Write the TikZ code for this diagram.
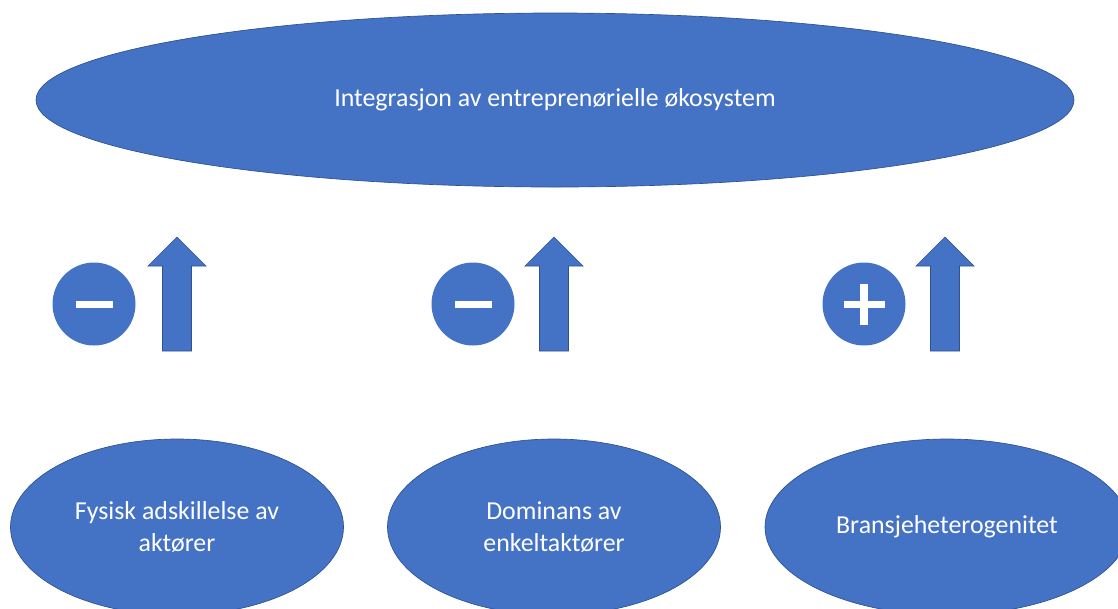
\documentclass[tikz,border=0pt]{standalone}
\usepackage{fontspec}
\setmainfont{Carlito}
\usetikzlibrary{shapes.geometric}
\definecolor{officeblue}{HTML}{4472C4}
\definecolor{officeline}{HTML}{2F528F}
\tikzset{
  blob/.style={ellipse, fill=officeblue, draw=officeline, line width=0.5pt,
    text=white, align=center, inner sep=0pt,
    font=\fontsize{19.4}{24}\selectfont},
  sign/.style={circle, fill=officeblue, minimum size=62.25pt, inner sep=0pt},
  uparrow/.style={fill=officeblue, draw=officeline, line width=0.5pt},
}

\begin{document}
\begin{tikzpicture}[x=0.75pt,y=-0.75pt]
    \clip (0,0) rectangle (1118,608);
    % top ellipse
    \node[blob, minimum width=778.5pt, minimum height=130.5pt] (eco) at (555,100)
      {Integrasjon av entreprenørielle økosystem};
    % bottom ellipses
    \node[blob, minimum width=249.75pt, minimum height=132pt] (fysisk) at (177,527)
      {Fysisk adskillelse av\\aktører};
    \node[blob, minimum width=249.75pt, minimum height=132pt] (dominans) at (554,527)
      {Dominans av\\enkeltaktører};
    \node[blob, minimum width=273pt, minimum height=132pt] (bransje) at (947,527)
      {Bransjeheterogenitet};
    % signs
    \node[sign] (minusA) at (94,304) {};
    \node[sign] (minusB) at (473,304) {};
    \node[sign] (plusC) at (864,304) {};
    \foreach \s in {minusA,minusB} {
        \fill[white] ([shift={(-18.5,-3.5)}]\s.center) rectangle ++(37,7);
      }
    \fill[white] ([shift={(-20.5,-3.5)}]plusC.center) rectangle ++(41,7);
    \fill[white] ([shift={(-4,-20.5)}]plusC.center) rectangle ++(8,41);
    % block arrows
    \foreach \c in {177,554,945} {
        \draw[uparrow] (\c-14.5,351) -- (\c-14.5,266) -- (\c-29,266)
        -- (\c,237) -- (\c+29,266) -- (\c+14.5,266) -- (\c+14.5,351) -- cycle;
      }
  \end{tikzpicture}
\end{document}
